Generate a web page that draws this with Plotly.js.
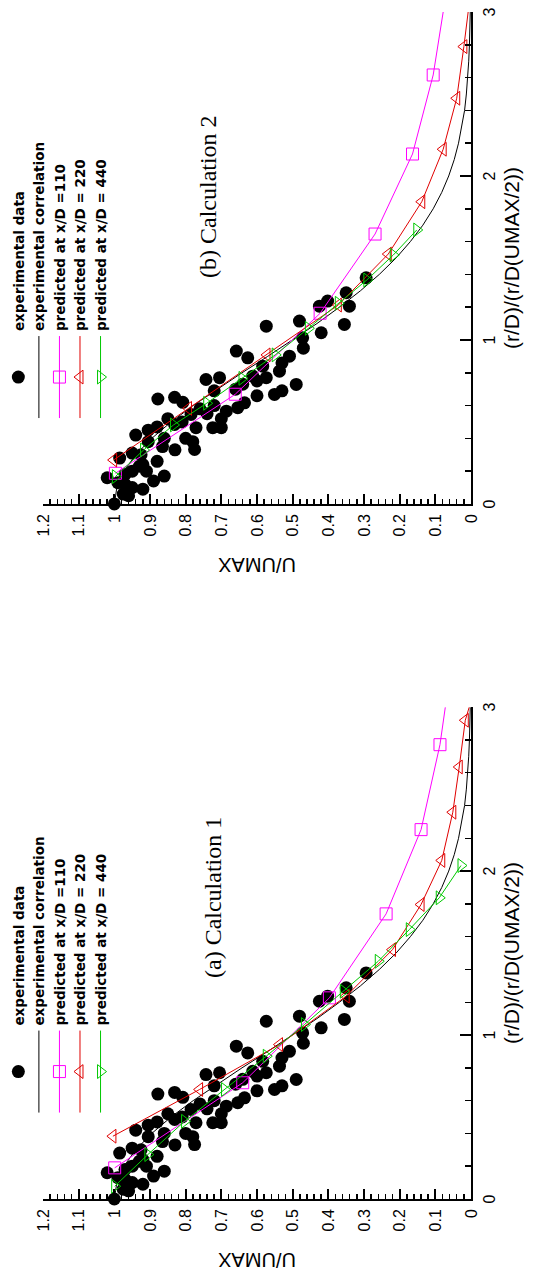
<!DOCTYPE html>
<html><head><meta charset="utf-8">
<script src="https://cdn.plot.ly/plotly-3.0.1.min.js"></script>
<style>
html,body{margin:0;padding:0;background:#fff;overflow:hidden;width:547px;height:1284px;}
#wrap{position:absolute;left:0;top:0;width:1284px;height:559px;transform-origin:0 0;transform:translate(-12px,1284px) rotate(-90deg);}
#plot{width:1284px;height:559px;}
</style></head><body>
<div id="wrap"><div id="plot"></div></div>
<script>
// experimental data (same in both panels): r = (r/D)/(r/D(UMAX/2)), U = U/UMAX
const expR = [0.00,0.16,0.28,0.10,0.09,0.14,0.20,0.26,0.30,0.35,0.42,0.45,0.47,0.20,0.06,0.64,0.65,0.62,0.485,0.546,0.332,0.465,0.759,0.465,0.465,0.77,0.566,0.587,0.617,0.932,0.891,0.779,0.770,0.840,0.810,0.668,0.901,0.729,1.379,1.288,1.206,1.206,1.237,1.095,1.044,1.115,1.013,1.084,0.52,0.38,0.55,0.70,0.69,0.40,0.24,0.12,0.31,
  0.05,0.13,0.18,0.23,0.17,0.33,0.40,0.50,0.38,0.58,0.52,0.60,0.73,0.66,0.75,0.86,0.69,0.95];
const expU = [1.00,1.02,0.985,0.95,0.92,0.89,0.95,0.88,0.925,0.865,0.94,0.905,0.88,0.91,0.975,0.878,0.831,0.808,0.831,0.785,0.775,0.771,0.743,0.724,0.700,0.705,0.686,0.654,0.635,0.658,0.626,0.612,0.574,0.584,0.537,0.551,0.509,0.490,0.294,0.350,0.341,0.425,0.402,0.355,0.420,0.481,0.472,0.574,0.85,0.905,0.74,0.66,0.72,0.80,0.92,0.97,0.95,
  0.96,0.99,0.97,0.93,0.86,0.83,0.86,0.81,0.78,0.76,0.70,0.72,0.64,0.60,0.60,0.53,0.53,0.47];

// experimental correlation (black curve)
const corrR = [0,0.1,0.2,0.3,0.4,0.5,0.6,0.7,0.8,0.9,1.0,1.1,1.2,1.3,1.4,1.5,1.6,1.7,1.8,1.9,2.0,2.1,2.2,2.3,2.4,2.5,2.6,2.7,2.8,2.9,3.0];
const corrU = [1,0.993,0.973,0.940,0.895,0.841,0.779,0.712,0.642,0.570,0.5,0.432,0.369,0.310,0.257,0.210,0.170,0.135,0.106,0.082,0.0625,0.047,0.035,0.026,0.018,0.013,0.0092,0.0064,0.0044,0.0029,0.0020];

// (a) Calculation 1
const a110R = [0.19,0.709,1.227,1.739,2.253,2.771,3.0];
const a110U = [0.999,0.640,0.397,0.238,0.140,0.087,0.072];
const a220R = [0.383,0.668,0.942,1.237,1.521,1.796,2.065,2.359,2.635,2.92,3.0];
const a220U = [1.004,0.761,0.537,0.350,0.220,0.140,0.082,0.051,0.033,0.016,0.005];
const a440R = [0.078,0.271,0.474,0.668,0.871,1.064,1.267,1.450,1.643,1.837,2.034];
const a440U = [0.999,0.906,0.803,0.691,0.574,0.467,0.358,0.260,0.173,0.089,0.028];

// (b) Calculation 2
const b110R = [0.187,0.669,1.163,1.646,2.134,2.616,3.0];
const b110U = [0.997,0.661,0.423,0.269,0.164,0.106,0.078];
const b220R = [0.268,0.583,0.909,1.213,1.524,1.843,2.163,2.474,2.789,3.0];
const b220U = [1.002,0.792,0.572,0.372,0.232,0.138,0.078,0.040,0.020,0.008];
const b440R = [0.167,0.329,0.482,0.614,0.766,0.909,1.071,1.224,1.366,1.518,1.671];
const b440U = [0.997,0.918,0.834,0.741,0.642,0.549,0.456,0.372,0.292,0.218,0.152];

const names = ['experimental data','experimental correlation','predicted at x/D =110','predicted at x/D = 220','predicted at x/D = 440'];
const panelTitles = ['(a) Calculation 1','(b) Calculation 2'];
const xTitle = '(r/D)/(r/D(UMAX/2))';
const yTitle = 'U/UMAX';

const MAG = '#ff00ff', RED = '#e00000', GRN = '#00c800';
const SANS = 'Liberation Sans, Arial, Helvetica, sans-serif';
const SERIF = 'Liberation Serif, Times New Roman, serif';

// the curve may continue past its last marker up to the axis end (r = 3)
function series(common, R, U, name, color, symbol, grp){
  const hasTail = R[R.length-1] >= 3;
  const n = hasTail ? R.length-1 : R.length;
  const out = [Object.assign({}, common, {x:R.slice(0,n), y:U.slice(0,n), name:name, legendgroup:grp,
    mode:'lines+markers', cliponaxis:false, line:{color:color, width:1},
    marker:{symbol:symbol, size:12, color:color, line:{width:1, color:color}}})];
  if(hasTail){
    out.push(Object.assign({}, common, {x:R.slice(n-1), y:U.slice(n-1), name:name, legendgroup:grp,
      showlegend:false, mode:'lines', line:{color:color, width:1}}));
  }
  return out;
}

function panel(xa, ya, leg, R110, U110, R220, U220, R440, U440){
  const common = {type:'scatter', xaxis:xa, yaxis:ya, legend:leg, hoverinfo:'skip'};
  return [].concat(
    [Object.assign({}, common, {x:expR, y:expU, name:names[0], mode:'markers', cliponaxis:false,
      marker:{symbol:'circle', size:13, color:'black'}}),
     Object.assign({}, common, {x:corrR, y:corrU, name:names[1], mode:'lines',
      line:{color:'black', width:1}})],
    series(common, R110, U110, names[2], MAG, 'square-open', leg+'110'),
    series(common, R220, U220, names[3], RED, 'triangle-up-open', leg+'220'),
    series(common, R440, U440, names[4], GRN, 'triangle-down-open', leg+'440')
  );
}

const data = [].concat(
  panel('x','y','legend', a110R,a110U,a220R,a220U,a440R,a440U),
  panel('x2','y2','legend2', b110R,b110U,b220R,b220U,b440R,b440U)
);

const axX = {range:[0,3], tick0:0, dtick:1, ticks:'inside', ticklen:11, tickwidth:2, tickcolor:'black',
  showline:true, linewidth:2, linecolor:'black', showgrid:false, zeroline:false, fixedrange:true,
  minor:{dtick:0.2, ticks:'inside', ticklen:6, tickwidth:1.5, tickcolor:'black', showgrid:false},
  tickfont:{family:SANS, size:16, color:'black'}, ticklabelstandoff:3};
const axY = {range:[0,1.2], tick0:0, dtick:0.1, ticks:'inside', ticklen:10, tickwidth:2, tickcolor:'black',
  showline:true, linewidth:2, linecolor:'black', showgrid:false, zeroline:false, fixedrange:true,
  minor:{dtick:0.02, ticks:'inside', ticklen:5, tickwidth:1.5, tickcolor:'black', showgrid:false},
  tickfont:{family:SANS, size:16, color:'black'}, ticklabelstandoff:5,
  title:{text:yTitle, font:{family:SANS, size:20, color:'black'}, standoff:16}};
const legBase = {y:1.0933, yanchor:'top', xanchor:'left', bgcolor:'rgba(0,0,0,0)', borderwidth:0,
  font:{family:'DejaVu Sans, sans-serif', size:13.5, weight:'bold', color:'black'},
  itemwidth:82, itemsizing:'trace', traceorder:'normal', tracegroupgap:0};

function xTitleAnn(ref){
  return {text:xTitle, xref:ref, yref:'paper', x:0.5, y:-0.0945, showarrow:false,
    xanchor:'center', yanchor:'middle', font:{family:SANS, size:21, color:'black'}};
}

const layout = {
  width:1284, height:559,
  margin:{l:84.5, r:11.7, t:55, b:75.5, pad:0, autoexpand:false},
  paper_bgcolor:'white', plot_bgcolor:'rgba(0,0,0,0)',
  font:{family:SANS, color:'black'},
  showlegend:true,
  xaxis: Object.assign({}, axX, {domain:[0,0.41438], anchor:'y'}),
  xaxis2: Object.assign({}, axX, {domain:[0.58554,1], anchor:'y2'}),
  yaxis: Object.assign({}, axY, {domain:[0,1], anchor:'x'}),
  yaxis2: Object.assign({}, axY, {domain:[0,1], anchor:'x2'}),
  legend: Object.assign({}, legBase, {x:0.0686}),
  legend2: Object.assign({}, legBase, {x:0.6537}),
  annotations:[
    {text:panelTitles[0], xref:'paper', yref:'paper', x:0.2543, y:0.6033, showarrow:false,
     xanchor:'center', yanchor:'middle', font:{family:SERIF, size:24, color:'black'}},
    {text:panelTitles[1], xref:'paper', yref:'paper', x:0.8443, y:0.6149, showarrow:false,
     xanchor:'center', yanchor:'middle', font:{family:SERIF, size:24, color:'black'}},
    xTitleAnn('x domain'),
    xTitleAnn('x2 domain')
  ]
};

Plotly.newPlot('plot', data, layout, {staticPlot:true, displayModeBar:false, responsive:false});
</script>
</body></html>
